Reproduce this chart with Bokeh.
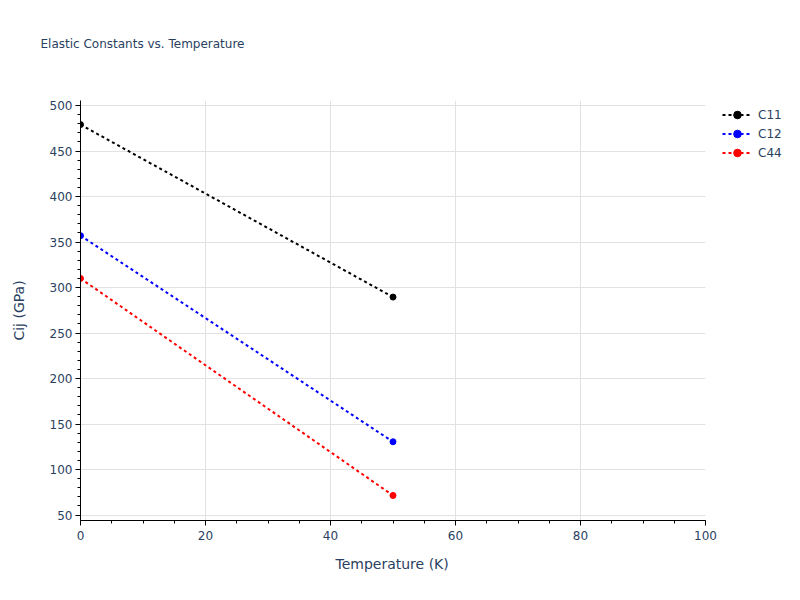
from bokeh.plotting import figure
from bokeh.models import Legend, LegendItem, Range1d, Title, FixedTicker, BoxAnnotation
from bokeh.embed import file_html
from bokeh.resources import INLINE

temperature = [0, 50]
c11 = [479, 289.5]
c12 = [357, 130.5]
c44 = [310, 71.5]
series_names = ["C11", "C12", "C44"]
series_values = [c11, c12, c44]
series_colors = ["black", "blue", "red"]
x_ticks = [0, 20, 40, 60, 80, 100]
y_ticks = [50, 100, 150, 200, 250, 300, 350, 400, 450, 500]
x_min, x_max = 0, 100

TXT = "#2a3f5f"
FONT = "DejaVu Sans"

# frame spans to the right edge; data axis (0..100) covers 625 px of it, rest holds the legend
FRAME_W, DATA_W = 704, 625
x_end = x_max + (x_max - x_min) * (FRAME_W - DATA_W) / DATA_W

p = figure(width=784, height=584, output_backend="svg", toolbar_location=None,
           x_range=Range1d(x_min, x_end), y_range=Range1d(44, 505.5),
           min_border_left=80, min_border_right=0, min_border_top=100, min_border_bottom=64,
           background_fill_color="white", border_fill_color="white")
p.outline_line_color = None

# spacer between frame and the chart title
p.add_layout(Title(text=" ", text_font_size="12px", standoff=0, text_font=FONT), "above")
p.title = Title(text="Elastic Constants vs. Temperature", align="left", offset=-40,
                standoff=68, text_font_size="12px", text_font_style="normal",
                text_color=TXT, text_font=FONT)

items = []
for name, vals, col in zip(series_names, series_values, series_colors):
    r1 = p.line(temperature, vals, line_color=col, line_width=2, line_dash="3 3")
    r2 = p.scatter(temperature, vals, size=6, fill_color=col, line_color=col)
    items.append(LegendItem(label=name, renderers=[r1, r2]))

for ax in (p.xaxis[0], p.yaxis[0]):
    ax.axis_line_color = "black"
    ax.axis_line_width = 1
    ax.major_tick_line_color = "black"
    ax.minor_tick_line_color = "black"
    ax.major_tick_in = 0
    ax.major_tick_out = 5
    ax.minor_tick_in = 0
    ax.minor_tick_out = 3
    ax.major_label_text_font_size = "12px"
    ax.major_label_text_color = TXT
    ax.major_label_text_font = FONT
    ax.axis_label_text_font_size = "14px"
    ax.axis_label_text_color = TXT
    ax.axis_label_text_font = FONT
    ax.axis_label_text_font_style = "normal"

p.xaxis.bounds = (x_min, x_max)
p.xaxis.ticker = FixedTicker(ticks=x_ticks, minor_ticks=list(range(0, 101, 5)))
p.yaxis.ticker = FixedTicker(ticks=y_ticks, minor_ticks=list(range(50, 501, 10)))
p.yaxis.axis_label = "Cij (GPa)"
p.xaxis.major_label_standoff = 5
p.yaxis.major_label_standoff = 3
p.yaxis.axis_label_standoff = 20

# x-axis title, centred under the 0..100 part of the frame
p.add_layout(Title(text="Temperature (K)", align="left", offset=255, standoff=22,
                   text_font_size="14px", text_font_style="normal",
                   text_color=TXT, text_font=FONT), "below")

p.xgrid.ticker = FixedTicker(ticks=x_ticks[1:-1])
p.xgrid.grid_line_color = "#e2e2e2"
p.ygrid.grid_line_color = "#e2e2e2"
p.xgrid.grid_line_width = 1
p.ygrid.grid_line_width = 1
try:
    p.ygrid.cross_bounds = (x_min, x_max)
except Exception:
    p.add_layout(BoxAnnotation(left=x_max, fill_color="white", fill_alpha=1,
                               line_color=None, level="underlay"))

legend = Legend(items=items, location=(642, 358), margin=0, padding=0, spacing=0,
                glyph_width=30, glyph_height=19, label_height=19, label_standoff=6,
                label_text_font_size="12px", label_text_color=TXT, label_text_font=FONT,
                border_line_color=None, background_fill_alpha=0)
p.add_layout(legend, "center")

open("out.html", "w").write(file_html(p, INLINE))
